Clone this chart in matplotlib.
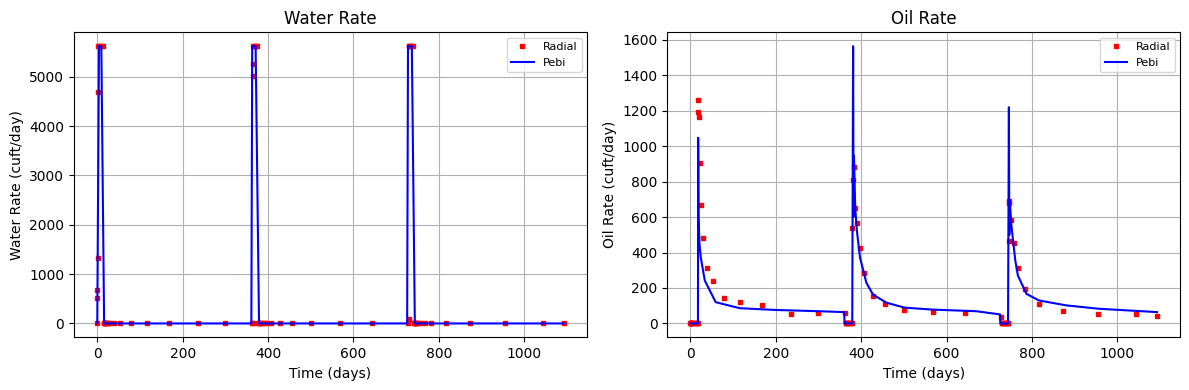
import matplotlib
matplotlib.use("Agg")
import matplotlib.pyplot as plt

# Radial model (markers)
radial_t = [0, 0.2, 0.5, 1, 1.5, 2, 4, 7, 10, 13,
            15, 16, 17,
            17.5, 18, 20, 22.5, 25, 29.5, 39, 53, 79, 116, 168, 236, 299, 362,
            365, 365.2, 365.5, 366, 368, 371, 374,
            376, 378,
            379, 381, 383, 385.5, 390, 397, 406.5, 427.6, 455.7, 500, 568, 643, 728,
            730, 730.2, 731, 733, 736, 739,
            741, 743, 745,
            746, 746.5, 747, 751, 758, 767, 783, 816, 873, 955, 1044, 1093]
radial_water = [0, 520, 680, 1320, 4700, 5620, 5620, 5620, 5620, 5620,
                0, 0, 0,
                0, 0, 0, 0, 0, 0, 0, 0, 0, 0, 0, 0, 0, 0,
                0, 5020, 5260, 5620, 5620, 5620, 5620,
                0, 0,
                0, 0, 0, 0, 0, 0, 0, 0, 0, 0, 0, 0, 0,
                95, 5620, 5620, 5620, 5620, 5620,
                0, 0, 0,
                0, 0, 0, 0, 0, 0, 0, 0, 0, 0, 0, 0]
radial_oil = [0, 0, 0, 0, 0, 0, 0, 0, 0, 0,
              0, 0, 0,
              1190, 1258, 1167, 906, 669, 483, 314, 237, 145, 122, 105, 55, 60, 60,
              0, 0, 0, 0, 0, 0, 0,
              0, 0,
              541, 810, 880, 652, 564, 427, 286, 156, 107, 77, 66, 60, 38,
              0, 0, 0, 0, 0, 0,
              0, 0, 0,
              466, 679, 690, 581, 451, 314, 197, 111, 68, 56, 56, 43]

# PEBI model (line)
pebi_t = [0, 4, 9.5, 16, 17.5, 18, 19, 21, 24, 33.5, 59, 115.5, 200, 300, 360,
          361, 363, 371, 379, 381, 382, 383, 386, 390, 397, 412, 427.6, 459, 502,
          568, 669.6, 725, 726, 728, 737, 744, 746, 747, 748, 752, 761, 767, 787,
          816, 880, 956, 1093]
pebi_water = [0, 5620, 5620, 0, 0, 0, 0, 0, 0, 0, 0, 0, 0, 0, 0,
              0, 5620, 5620, 0, 0, 0, 0, 0, 0, 0, 0, 0, 0, 0,
              0, 0, 0, 0, 5620, 5620, 0, 0, 0, 0, 0, 0, 0, 0,
              0, 0, 0, 0]
pebi_oil = [0, 0, 0, 0, 0, 1047, 600, 450, 374, 242, 120, 86, 76, 69, 64,
            0, 0, 0, 0, 1564, 600, 947, 650, 520, 374, 230, 163, 117, 89,
            78, 69, 51, 0, 0, 0, 0, 1220, 500, 694, 550, 355, 271, 167,
            130, 102, 83, 64]

fig, axes = plt.subplots(1, 2, figsize=(11.89, 3.9), dpi=100)

panels = [
    (axes[0], radial_water, pebi_water, "Water Rate", "Water Rate (cuft/day)"),
    (axes[1], radial_oil, pebi_oil, "Oil Rate", "Oil Rate (cuft/day)"),
]
for ax, rad, peb, title, ylabel in panels:
    ax.plot(radial_t, rad, "rs", markersize=3.5, label="Radial")
    ax.plot(pebi_t, peb, "b-", linewidth=1.5, label="Pebi")
    ax.set_title(title)
    ax.set_xlabel("Time (days)")
    ax.set_ylabel(ylabel)
    ax.grid(True)
    ax.legend(loc="upper right", fontsize=8)

fig.subplots_adjust(left=0.0622, right=0.9927, top=0.9172, bottom=0.1351,
                    wspace=0.156)
fig.savefig("out.png", dpi=100)
